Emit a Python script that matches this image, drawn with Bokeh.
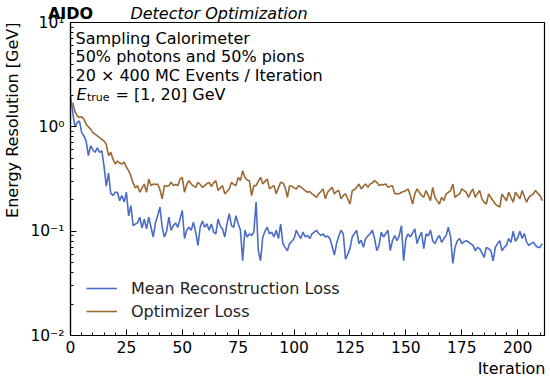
import math
from bokeh.plotting import figure
from bokeh.models import (Label, Legend, LegendItem, SingleIntervalTicker, FixedTicker,
                          CustomJSTickFormatter, Range1d, LinearAxis)
from bokeh.embed import file_html
from bokeh.resources import INLINE

# ---------------- data ----------------
iter_recon = list(range(0, 212))
recon_loss = [
    2.0, 1.37, 1.0, 1.1, 1.14, 0.88, 0.82, 0.73, 0.53, 0.66,
    0.6, 0.57, 0.63, 0.57, 0.59, 0.42, 0.27, 0.36, 0.23, 0.22,
    0.236, 0.236, 0.196, 0.22, 0.19, 0.236, 0.14, 0.176, 0.113, 0.117,
    0.12, 0.136, 0.107, 0.131, 0.105, 0.136, 0.109, 0.088, 0.12, 0.141,
    0.17, 0.109, 0.088, 0.1, 0.136, 0.102, 0.113, 0.12, 0.109, 0.131,
    0.158, 0.085, 0.102, 0.109, 0.102, 0.122, 0.098, 0.073, 0.109, 0.125,
    0.109, 0.118, 0.102, 0.117, 0.098, 0.094, 0.131, 0.112, 0.105, 0.088,
    0.118, 0.147, 0.113, 0.109, 0.141, 0.118, 0.102, 0.052, 0.102, 0.088,
    0.094, 0.091, 0.098, 0.19, 0.065, 0.052, 0.088, 0.1, 0.109, 0.094,
    0.098, 0.088, 0.102, 0.085, 0.117, 0.076, 0.07, 0.065, 0.076, 0.08,
    0.085, 0.102, 0.092, 0.085, 0.098, 0.088, 0.091, 0.085, 0.094, 0.098,
    0.102, 0.095, 0.091, 0.094, 0.088, 0.09, 0.085, 0.072, 0.059, 0.076,
    0.09, 0.102, 0.094, 0.054, 0.06, 0.068, 0.088, 0.095, 0.102, 0.076,
    0.082, 0.07, 0.085, 0.09, 0.094, 0.102, 0.085, 0.065, 0.073, 0.098,
    0.088, 0.095, 0.102, 0.065, 0.081, 0.091, 0.081, 0.09, 0.113, 0.052,
    0.085, 0.094, 0.088, 0.096, 0.105, 0.076, 0.088, 0.098, 0.068, 0.094,
    0.09, 0.102, 0.081, 0.076, 0.085, 0.091, 0.078, 0.085, 0.091, 0.109,
    0.088, 0.049, 0.07, 0.081, 0.085, 0.076, 0.079, 0.081, 0.0785, 0.076,
    0.073, 0.065, 0.07, 0.068, 0.062, 0.056, 0.07, 0.068, 0.065, 0.052,
    0.07, 0.076, 0.081, 0.065, 0.07, 0.073, 0.085, 0.078, 0.1, 0.08,
    0.086, 0.1, 0.085, 0.095, 0.0785, 0.073, 0.076, 0.0785, 0.073, 0.07,
    0.07, 0.076,
]
iter_opt = list(range(1, 212))
opt_loss = [
    1.7, 1.4, 1.27, 1.23, 1.25, 1.18, 1.06, 1.0, 0.95,
    0.88, 0.85, 0.82, 0.79, 0.76, 0.73, 0.68, 0.53, 0.57, 0.49,
    0.44, 0.47, 0.45, 0.44, 0.46, 0.41, 0.38, 0.34, 0.29, 0.26,
    0.273, 0.236, 0.26, 0.283, 0.236, 0.316, 0.273, 0.283, 0.28, 0.283,
    0.25, 0.204, 0.273, 0.27, 0.273, 0.294, 0.273, 0.28, 0.273, 0.316,
    0.328, 0.236, 0.28, 0.305, 0.283, 0.27, 0.263, 0.294, 0.28, 0.263,
    0.273, 0.285, 0.294, 0.268, 0.29, 0.305, 0.245, 0.26, 0.273, 0.228,
    0.24, 0.254, 0.294, 0.28, 0.273, 0.328, 0.305, 0.38, 0.328, 0.31,
    0.305, 0.219, 0.273, 0.273, 0.3, 0.328, 0.283, 0.3, 0.316, 0.254,
    0.265, 0.273, 0.228, 0.26, 0.294, 0.29, 0.263, 0.211, 0.273, 0.27,
    0.26, 0.254, 0.273, 0.265, 0.254, 0.245, 0.236, 0.24, 0.228, 0.22,
    0.211, 0.228, 0.24, 0.254, 0.204, 0.236, 0.25, 0.263, 0.228, 0.24,
    0.245, 0.204, 0.22, 0.228, 0.204, 0.182, 0.245, 0.25, 0.263, 0.283,
    0.254, 0.27, 0.283, 0.263, 0.283, 0.29, 0.305, 0.294, 0.273, 0.28,
    0.278, 0.283, 0.263, 0.27, 0.273, 0.228, 0.23, 0.228, 0.236, 0.24,
    0.245, 0.254, 0.22, 0.182, 0.228, 0.254, 0.236, 0.22, 0.211, 0.245,
    0.22, 0.196, 0.263, 0.211, 0.195, 0.182, 0.211, 0.196, 0.228, 0.235,
    0.245, 0.283, 0.211, 0.22, 0.228, 0.254, 0.245, 0.236, 0.211, 0.235,
    0.254, 0.211, 0.23, 0.245, 0.204, 0.19, 0.182, 0.228, 0.21, 0.196,
    0.182, 0.175, 0.17, 0.228, 0.21, 0.196, 0.236, 0.21, 0.19, 0.236,
    0.22, 0.204, 0.245, 0.215, 0.19, 0.211, 0.22, 0.228, 0.245, 0.23,
    0.219, 0.196,
]
x_ticks = [0, 25, 50, 75, 100, 125, 150, 175, 200]
y_ticks = [0.01, 0.1, 1, 10]
y_tick_labels = ["10\u207b\u00b2", "10\u207b\u00b9", "10\u2070", "10\u00b9"]
series_names = ["Mean Reconstruction Loss", "Optimizer Loss"]
title_main = "AIDO"
title_sub = "Detector Optimization"
info_lines = ["Sampling Calorimeter", "50% photons and 50% pions",
              "20 \u00d7 400 MC Events / Iteration"]
energy_text = "= [1, 20] GeV"

# ---------------- layout ----------------
X_MIN, X_MAX = 0, 212
Y_MIN, Y_MAX = 0.01, 10
W, H = 550, 379
BL, BR, BT, BB = 70, 6, 22, 44
FW, FH = W - BL - BR, H - BT - BB
FONT = "DejaVu Sans"
BLUE = "#4a6cc6"
BROWN = "#9a6833"


def dx(px):
    return X_MIN + (X_MAX - X_MIN) * px / FW


def dy(py):
    lo, hi = math.log10(Y_MIN), math.log10(Y_MAX)
    return 10 ** (hi - (hi - lo) * py / FH)


p = figure(width=W, height=H, y_axis_type="log",
           x_range=Range1d(X_MIN, X_MAX), y_range=Range1d(Y_MIN, Y_MAX),
           output_backend="svg", toolbar_location=None,
           min_border_left=BL, min_border_right=BR,
           min_border_top=BT, min_border_bottom=BB)
p.title = None
p.grid.visible = False
p.outline_line_color = "black"
p.outline_line_width = 1.2
p.outline_line_alpha = 1.0
p.background_fill_color = "white"
p.border_fill_color = "white"

p.xaxis.ticker = SingleIntervalTicker(interval=25, num_minor_ticks=5)
minor_y = [m * 10 ** e for e in range(-2, 1) for m in range(2, 10)]
p.yaxis.ticker = FixedTicker(ticks=y_ticks, minor_ticks=minor_y)
p.yaxis.formatter = CustomJSTickFormatter(args=dict(labels=y_tick_labels), code="""
const e = Math.round(Math.log10(tick));
return labels[e + 2];
""")

for ax in (p.xaxis[0], p.yaxis[0]):
    ax.axis_line_color = "black"
    ax.axis_line_width = 1.2
    ax.major_tick_in = 6
    ax.major_tick_out = 0
    ax.minor_tick_in = 3
    ax.minor_tick_out = 0
    ax.major_tick_line_color = "black"
    ax.minor_tick_line_color = "black"
    ax.major_label_text_font = FONT
    ax.major_label_text_font_size = "15.5px"
    ax.major_label_text_color = "black"
p.xaxis.major_label_standoff = 5
p.yaxis.major_label_standoff = 6

# ---- title row: a hidden top axis; italic subtitle is its single tick label,
# bold "AIDO" is its axis label aligned to the start and pulled onto the same row ----
title_axis = LinearAxis(
    ticker=FixedTicker(ticks=[dx(148.5)], minor_ticks=[]),
    formatter=CustomJSTickFormatter(args=dict(t=title_sub), code="return t;"),
    axis_label=title_main,
    axis_label_align="start",
    axis_line_alpha=0, major_tick_line_alpha=0, minor_tick_line_alpha=0,
    major_tick_in=0, major_tick_out=0, minor_tick_in=0, minor_tick_out=0,
    major_label_standoff=0,
    major_label_text_font=FONT, major_label_text_font_size="16px",
    major_label_text_font_style="italic", major_label_text_color="black",
    axis_label_text_font=FONT, axis_label_text_font_size="16px",
    axis_label_text_font_style="bold", axis_label_text_color="black",
    axis_label_text_align="left",
    axis_label_standoff=-22,
)
p.add_layout(title_axis, "above")


def make_text(px, py, text, size="16px", style="normal", align="left",
              baseline="alphabetic", angle=0.0):
    return Label(x=dx(px), y=dy(py), text=text, text_font=FONT,
                 text_font_size=size, text_font_style=style,
                 text_color="black", text_align=align,
                 text_baseline=baseline, angle=angle)


# axis titles live in the side panels (not clipped to the frame)
p.add_layout(make_text(-58, 0, "Energy Resolution [GeV]", align="right",
                       baseline="middle", angle=math.pi / 2), "left")
p.add_layout(make_text(FW + 1, FH + 33, "Iteration", align="right"), "below")

# info text inside the frame
base_py = [15.5, 34.2, 52.9]
for t, b in zip(info_lines, base_py):
    p.add_layout(make_text(5, b, t))
p.add_layout(make_text(6, 71.6, "E", style="italic"))
p.add_layout(make_text(16.5, 74.6, "true", size="11px"))
p.add_layout(make_text(45, 71.6, energy_text))

r1 = p.line(iter_recon, recon_loss, line_color=BLUE, line_width=1.6)
r2 = p.line(iter_opt, opt_loss, line_color=BROWN, line_width=1.6)

legend = Legend(items=[LegendItem(label=series_names[0], renderers=[r1]),
                       LegendItem(label=series_names[1], renderers=[r2])],
                location=(16, 14))
legend.label_text_font = FONT
legend.label_text_font_size = "16px"
legend.label_text_color = "#222222"
legend.glyph_width = 31
legend.glyph_height = 20
legend.label_height = 20
legend.label_standoff = 14
legend.padding = 0
legend.margin = 0
legend.spacing = 3
legend.border_line_alpha = 0
legend.background_fill_alpha = 0
p.add_layout(legend)

open("out.html", "w").write(file_html(p, INLINE))
